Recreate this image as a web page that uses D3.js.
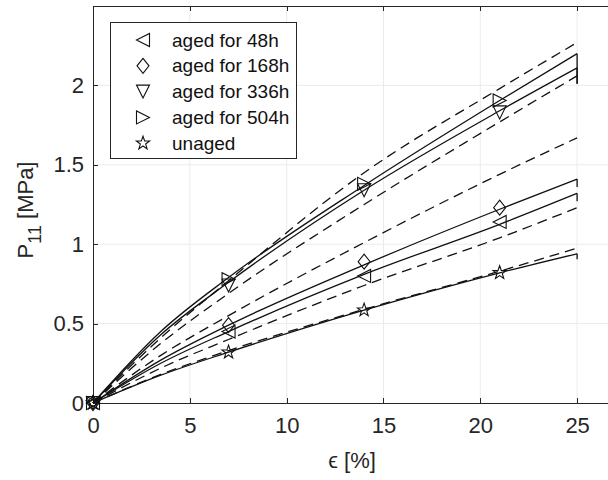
<!DOCTYPE html>
<html lang="en">
<head>
<meta charset="utf-8">
<title>P11 vs strain</title>
<script src="https://cdn.jsdelivr.net/npm/d3@7"></script>
<style>
body { margin: 0; background: #fff; }
svg { font-family: "Liberation Sans", Arial, sans-serif; }
.grid line { stroke: #ebebeb; stroke-width: 1; }
.axis line, .axis path { stroke: #262626; fill: none; shape-rendering: crispEdges; }
.axis text { fill: #262626; font-size: 22px; }
.fit { fill: none; stroke: #111; stroke-width: 1.3; }
.pred { fill: none; stroke: #111; stroke-width: 1.3; stroke-dasharray: 10,6; }
.mark { fill: none; stroke: #111; stroke-width: 1.1; }
</style>
</head>
<body>
<div id="chart"></div>
<script>
// measured points (markers)
var strainMarks = [0, 7, 14, 21];
var aged48 = [0, 0.45, 0.80, 1.14];
var aged168 = [0, 0.49, 0.89, 1.23];
var aged336 = [0, 0.74, 1.34, 1.83];
var aged504 = [0, 0.78, 1.38, 1.905];
var unaged = [0, 0.32, 0.585, 0.82];

// model curves
var strainCurve = [0, 3.5, 7, 14, 21, 25];
var fit504 = [0, 0.45, 0.79, 1.37, 1.905, 2.20];
var fit336 = [0, 0.43, 0.76, 1.34, 1.84, 2.11];
var fit168 = [0, 0.27, 0.49, 0.87, 1.22, 1.41];
var fit48 = [0, 0.25, 0.45, 0.81, 1.125, 1.32];
var fitUnaged = [0, 0.175, 0.32, 0.585, 0.82, 0.94];
var fitDrop = [2.01, 2.01, 1.36, 1.27, 0.905];   // end values of the short drop at 25%

var pred1 = [0, 0.41, 0.77, 1.45, 1.98, 2.27];
var pred2 = [0, 0.375, 0.69, 1.25, 1.77, 2.06];
var pred3 = [0, 0.30, 0.55, 1.01, 1.44, 1.67];
var pred4 = [0, 0.22, 0.40, 0.74, 1.04, 1.23];
var pred5 = [0, 0.18, 0.33, 0.59, 0.83, 0.975];

var xTicks = [0, 5, 10, 15, 20, 25];
var yTicks = [0, 0.5, 1, 1.5, 2];
var legendNames = ["aged for 48h", "aged for 168h", "aged for 336h", "aged for 504h", "unaged"];

var width = 608, height = 480;
var x = d3.scaleLinear().domain([0, 26.75]).range([93, 611]);
var y = d3.scaleLinear().domain([0, 2.5]).range([403, 6]);

var svg = d3.select("#chart").append("svg")
    .attr("width", width)
    .attr("height", height);

// grid
var grid = svg.append("g").attr("class", "grid");
grid.selectAll(".gx").data(xTicks.slice(1)).enter().append("line")
    .attr("x1", function(d) { return x(d); }).attr("x2", function(d) { return x(d); })
    .attr("y1", y(0)).attr("y2", y(2.5));
grid.selectAll(".gy").data(yTicks.slice(1)).enter().append("line")
    .attr("x1", x(0)).attr("x2", x(26.75))
    .attr("y1", function(d) { return y(d); }).attr("y2", function(d) { return y(d); });

// axes
var xAxis = d3.axisBottom(x).tickValues(xTicks).tickSizeInner(-5).tickSizeOuter(0).tickPadding(14);
var yAxis = d3.axisLeft(y).tickValues(yTicks).tickSizeInner(-5).tickSizeOuter(0).tickPadding(9)
    .tickFormat(d3.format("~g"));

svg.append("g").attr("class", "axis")
    .attr("transform", "translate(0," + y(0) + ")")
    .call(xAxis);
svg.append("g").attr("class", "axis")
    .attr("transform", "translate(0," + y(2.5) + ")")
    .call(d3.axisTop(x).tickValues(xTicks).tickSizeInner(-5).tickSizeOuter(0).tickFormat(""));
svg.append("g").attr("class", "axis")
    .attr("transform", "translate(" + x(0) + ",0)")
    .call(yAxis);

// labels
svg.append("text")
    .attr("x", 352).attr("y", 468)
    .attr("text-anchor", "middle")
    .attr("font-size", 22).attr("fill", "#262626")
    .text("ϵ [%]");

var yl = svg.append("text")
    .attr("transform", "translate(33,210)rotate(-90)")
    .attr("text-anchor", "middle")
    .attr("font-size", 22).attr("fill", "#262626");
yl.append("tspan").text("P");
yl.append("tspan").attr("dy", 8).attr("font-size", 18).text("11");
yl.append("tspan").attr("dy", -8).text(" [MPa]");

// curves
var line = d3.line()
    .x(function(d) { return x(d[0]); })
    .y(function(d) { return y(d[1]); })
    .curve(d3.curveMonotoneX);

function pairs(xs, ys) { return xs.map(function(v, i) { return [v, ys[i]]; }); }

var fits = [fit504, fit336, fit168, fit48, fitUnaged];
var preds = [pred1, pred2, pred3, pred4, pred5];

svg.append("g").selectAll("path").data(preds).enter().append("path")
    .attr("class", "pred")
    .attr("d", function(d) { return line(pairs(strainCurve, d)); });

svg.append("g").selectAll("path").data(fits).enter().append("path")
    .attr("class", "fit")
    .attr("d", function(d) { return line(pairs(strainCurve, d)); });

svg.append("g").selectAll("line").data(fits).enter().append("line")
    .attr("class", "fit")
    .attr("x1", x(25)).attr("x2", x(25))
    .attr("y1", function(d) { return y(d[d.length - 1]); })
    .attr("y2", function(d, i) { return y(fitDrop[i]); });

// marker shapes
var triLeft = "M-6.5,0L6.5,-6.5L6.5,6.5Z";
var triRight = "M6.5,0L-6.5,-6.5L-6.5,6.5Z";
var triDown = "M0,6.5L-6.5,-6.5L6.5,-6.5Z";
var diamond = "M0,-7.5L6,0L0,7.5L-6,0Z";
var star = (function() {
  var p = [];
  for (var k = 0; k < 10; k++) {
    var r = k % 2 === 0 ? 7 : 2.8;
    var a = -Math.PI / 2 + k * Math.PI / 5;
    p.push([r * Math.cos(a), r * Math.sin(a)]);
  }
  return "M" + p.map(function(q) { return q[0].toFixed(2) + "," + q[1].toFixed(2); }).join("L") + "Z";
})();

var series = [
  { vals: aged48, shape: triLeft },
  { vals: aged168, shape: diamond },
  { vals: aged336, shape: triDown },
  { vals: aged504, shape: triRight },
  { vals: unaged, shape: star }
];

series.forEach(function(s) {
  svg.append("g").selectAll("path")
    .data(pairs(strainMarks, s.vals))
    .enter().append("path")
      .attr("class", "mark")
      .attr("d", s.shape)
      .attr("transform", function(d) { return "translate(" + x(d[0]) + "," + y(d[1]) + ")"; });
});

// legend
var lg = svg.append("g");
lg.append("rect")
    .attr("x", 110.5).attr("y", 22.5)
    .attr("width", 186).attr("height", 136)
    .attr("fill", "#fff").attr("stroke", "#262626");
series.forEach(function(s, i) {
  var cy = 40 + i * 25.8;
  lg.append("path").attr("class", "mark").attr("d", s.shape)
    .attr("transform", "translate(143," + cy + ")");
  lg.append("text")
    .attr("x", 172).attr("y", cy).attr("dy", "0.35em")
    .attr("font-size", 19).attr("fill", "#111")
    .text(legendNames[i]);
});
</script>
</body>
</html>
